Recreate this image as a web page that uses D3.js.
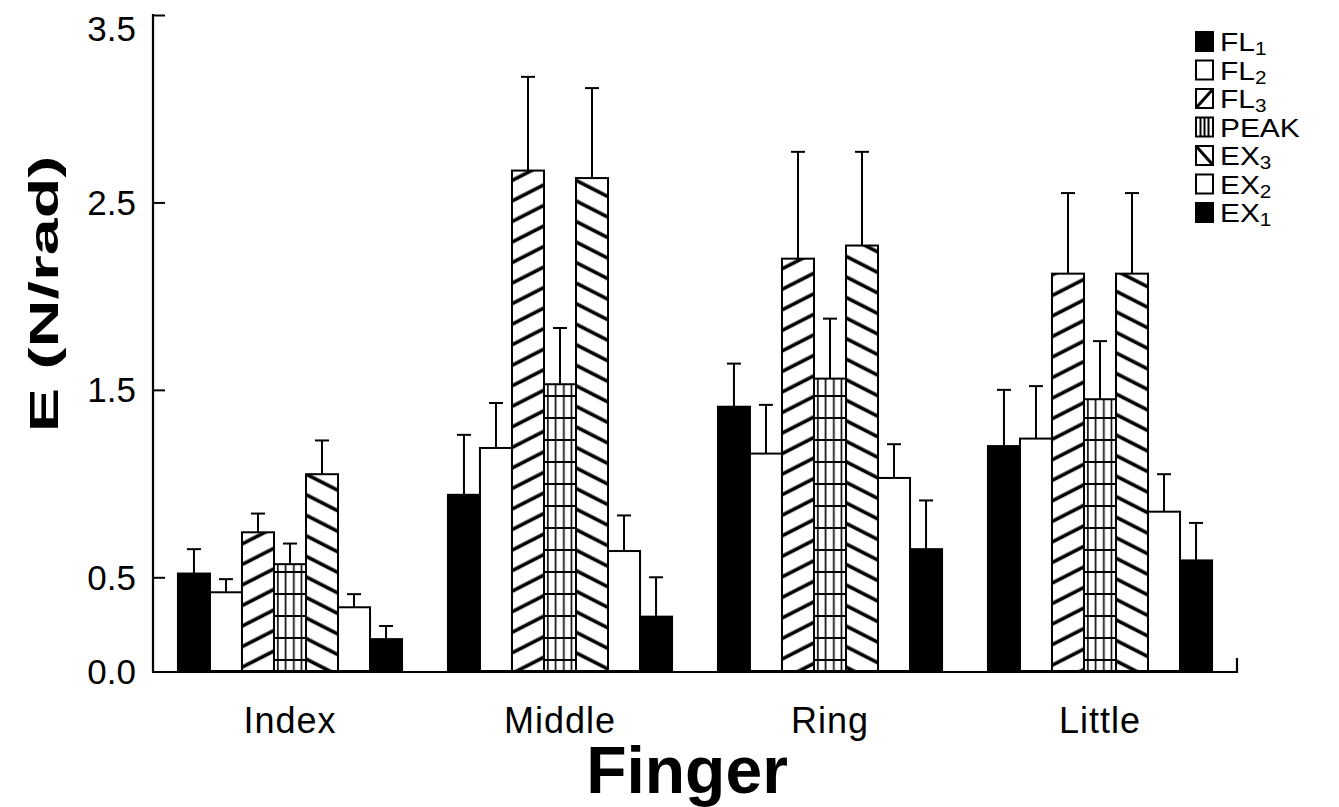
<!DOCTYPE html>
<html>
<head>
<meta charset="utf-8">
<script src="https://cdn.jsdelivr.net/npm/d3@7"></script>
<style>
  html, body { margin: 0; padding: 0; background: #fff; }
  svg { display: block; }
  text { font-family: Arial, "Liberation Sans", Helvetica, sans-serif; fill: #000; }
</style>
</head>
<body>
<svg id="chart" width="1339" height="807"></svg>
<script>
// Fingers along the x axis
const fingers = ["Index", "Middle", "Ring", "Little"];
// Series (bar order inside each finger group)
const seriesKeys = ["FL1", "FL2", "FL3", "PEAK", "EX3", "EX2", "EX1"];
// Legend labels: base text + subscript
const legendBase = ["FL", "FL", "FL", "PEAK", "EX", "EX", "EX"];
const legendSub  = ["1", "2", "3", "", "3", "2", "1"];

// Mean stiffness E (N/rad) per series, in finger order
const FL1  = [0.52, 0.94, 1.41, 1.20];
const FL2  = [0.42, 1.19, 1.16, 1.24];
const FL3  = [0.74, 2.67, 2.20, 2.12];
const PEAK = [0.57, 1.53, 1.56, 1.45];
const EX3  = [1.05, 2.63, 2.27, 2.12];
const EX2  = [0.34, 0.64, 1.03, 0.85];
const EX1  = [0.17, 0.29, 0.65, 0.59];

// Upper error bar (mean + SD)
const FL1_err  = [0.65, 1.26, 1.64, 1.50];
const FL2_err  = [0.49, 1.43, 1.42, 1.52];
const FL3_err  = [0.84, 3.17, 2.77, 2.55];
const PEAK_err = [0.68, 1.83, 1.88, 1.76];
const EX3_err  = [1.23, 3.11, 2.77, 2.55];
const EX2_err  = [0.41, 0.83, 1.21, 1.05];
const EX1_err  = [0.24, 0.50, 0.91, 0.79];

const yTicks = [0.0, 0.5, 1.5, 2.5, 3.5];

const means = { FL1, FL2, FL3, PEAK, EX3, EX2, EX1 };
const errs  = { FL1: FL1_err, FL2: FL2_err, FL3: FL3_err, PEAK: PEAK_err,
                EX3: EX3_err, EX2: EX2_err, EX1: EX1_err };

// Fill style per series
const fillKind = { FL1: "black", FL2: "white", FL3: "fwd", PEAK: "grid",
                   EX3: "back", EX2: "white", EX1: "black" };

const rows = [];
fingers.forEach((f, i) => {
  seriesKeys.forEach((s) => {
    rows.push({ finger: f, series: s, value: means[s][i], upper: errs[s][i] });
  });
});

const svg = d3.select("#chart");

const x0 = d3.scaleBand().domain(fingers).range([155, 1235])
  .paddingInner(0.17).paddingOuter(0.085);
const x1 = d3.scaleBand().domain(seriesKeys).range([0, x0.bandwidth()]).padding(0);
const y = d3.scaleLinear().domain([0, 3.5]).range([671, 15]);

const defs = svg.append("defs");

// Diagonal hatch patterns
function hatch(id, angle) {
  const p = defs.append("pattern")
    .attr("id", id)
    .attr("patternUnits", "userSpaceOnUse")
    .attr("width", 10).attr("height", 18.3)
    .attr("patternTransform", `rotate(${angle})`);
  p.append("rect").attr("width", 10).attr("height", 18.3).attr("fill", "#fff");
  p.append("line").attr("x1", 0).attr("x2", 10).attr("y1", 9).attr("y2", 9)
    .attr("stroke", "#000").attr("stroke-width", 3.6);
}
hatch("hatch-fwd", -27);
hatch("hatch-back", 27);

// Grid pattern for PEAK bars, one per finger so verticals line up with the bar
const bw = x1.bandwidth();
fingers.forEach((f, i) => {
  const bx = x0(f) + x1("PEAK");
  const p = defs.append("pattern")
    .attr("id", "grid-" + i)
    .attr("patternUnits", "userSpaceOnUse")
    .attr("width", bw).attr("height", 22)
    .attr("patternTransform", `translate(${bx},${y(0)})`);
  p.append("rect").attr("width", bw).attr("height", 22).attr("fill", "#fff");
  [0.12, 0.36, 0.62, 0.86].forEach(t => {
    p.append("line").attr("x1", bw * t).attr("x2", bw * t)
      .attr("y1", 0).attr("y2", 22).attr("stroke", "#000").attr("stroke-width", 1.6);
  });
  p.append("line").attr("x1", 0).attr("x2", bw).attr("y1", 11).attr("y2", 11)
    .attr("stroke", "#000").attr("stroke-width", 2);
});

function fillFor(d) {
  const k = fillKind[d.series];
  if (k === "black") return "#000";
  if (k === "white") return "#fff";
  if (k === "fwd") return "url(#hatch-fwd)";
  if (k === "back") return "url(#hatch-back)";
  return "url(#grid-" + fingers.indexOf(d.finger) + ")";
}

// Error bars (drawn first, bars cover their lower end)
const eb = svg.append("g").attr("class", "errbars");
eb.selectAll("line.stem").data(rows).join("line")
  .attr("class", "stem")
  .attr("x1", d => x0(d.finger) + x1(d.series) + bw / 2)
  .attr("x2", d => x0(d.finger) + x1(d.series) + bw / 2)
  .attr("y1", d => y(d.value))
  .attr("y2", d => y(d.upper))
  .attr("stroke", "#000").attr("stroke-width", 2);
eb.selectAll("line.cap").data(rows).join("line")
  .attr("class", "cap")
  .attr("x1", d => x0(d.finger) + x1(d.series) + bw / 2 - 7)
  .attr("x2", d => x0(d.finger) + x1(d.series) + bw / 2 + 7)
  .attr("y1", d => y(d.upper))
  .attr("y2", d => y(d.upper))
  .attr("stroke", "#000").attr("stroke-width", 2);

// Bars
svg.append("g").attr("class", "bars")
  .selectAll("rect").data(rows).join("rect")
  .attr("x", d => x0(d.finger) + x1(d.series))
  .attr("y", d => y(d.value))
  .attr("width", bw)
  .attr("height", d => y(0) - y(d.value))
  .attr("fill", fillFor)
  .attr("stroke", "#000")
  .attr("stroke-width", 2);

// Y axis: ticks point inward, only at the labelled values
const yAxis = d3.axisRight(y).tickValues(yTicks).tickSize(12).tickFormat("");
const gy = svg.append("g").attr("transform", "translate(153,0)").call(yAxis);
gy.select(".domain").remove();
gy.selectAll(".tick line").attr("stroke", "#000").attr("stroke-width", 2)
  .filter(d => d === 0).remove();
svg.append("line").attr("x1", 153).attr("x2", 153).attr("y1", y(3.5) - 1).attr("y2", y(0) + 1)
  .attr("stroke", "#000").attr("stroke-width", 2.2);
// Tick labels; the topmost sits a little below its tick so it stays on the page
svg.append("g").selectAll("text").data(yTicks).join("text")
  .attr("x", 136).attr("y", d => Math.max(y(d), 28))
  .attr("dy", "0.36em")
  .attr("text-anchor", "end")
  .attr("font-size", 35)
  .text(d3.format(".1f"));

// X axis with a short upright tick at its right end
svg.append("line").attr("x1", 152).attr("x2", 1237).attr("y1", y(0) + 1).attr("y2", y(0) + 1)
  .attr("stroke", "#000").attr("stroke-width", 2.2);
svg.append("line").attr("x1", 1237).attr("x2", 1237).attr("y1", y(0) + 2).attr("y2", y(0) - 13)
  .attr("stroke", "#000").attr("stroke-width", 2.2);
svg.append("g").selectAll("text").data(fingers).join("text")
  .attr("x", d => x0(d) + x0.bandwidth() / 2)
  .attr("y", 733)
  .attr("text-anchor", "middle")
  .attr("font-size", 36)
  .attr("letter-spacing", 1)
  .text(d => d);

// Axis titles
svg.append("text")
  .attr("x", 687).attr("y", 793)
  .attr("text-anchor", "middle")
  .attr("font-size", 66)
  .attr("font-weight", "bold")
  .text("Finger");

svg.append("text")
  .attr("transform", "translate(58,294) rotate(-90) scale(1.62,1)")
  .attr("text-anchor", "middle")
  .attr("font-size", 41)
  .attr("font-weight", "bold")
  .text("E (N/rad)");

// Legend
const lg = svg.append("g").attr("class", "legend");
seriesKeys.forEach((s, i) => {
  const cy = 42 + i * 28.5;
  const g = lg.append("g").attr("transform", `translate(1196,${cy})`);
  const k = fillKind[s];
  g.append("rect").attr("x", 0).attr("y", -10).attr("width", 17).attr("height", 19)
    .attr("fill", k === "black" ? "#000" : "#fff")
    .attr("stroke", "#000").attr("stroke-width", 2);
  if (k === "fwd") {
    g.append("line").attr("x1", 0).attr("y1", 9).attr("x2", 17).attr("y2", -10)
      .attr("stroke", "#000").attr("stroke-width", 3);
  } else if (k === "back") {
    g.append("line").attr("x1", 0).attr("y1", -10).attr("x2", 17).attr("y2", 9)
      .attr("stroke", "#000").attr("stroke-width", 3);
  } else if (k === "grid") {
    [4.5, 8.5, 12.5].forEach(px => g.append("line")
      .attr("x1", px).attr("x2", px).attr("y1", -10).attr("y2", 9)
      .attr("stroke", "#000").attr("stroke-width", 2));
  }
  const t = g.append("text")
    .attr("transform", "translate(24,9) scale(1.15,1)")
    .attr("font-size", 26);
  t.append("tspan").text(legendBase[i]);
  if (legendSub[i]) {
    t.append("tspan").attr("font-size", 18).attr("dy", 4).text(legendSub[i]);
  }
});
</script>
</body>
</html>
